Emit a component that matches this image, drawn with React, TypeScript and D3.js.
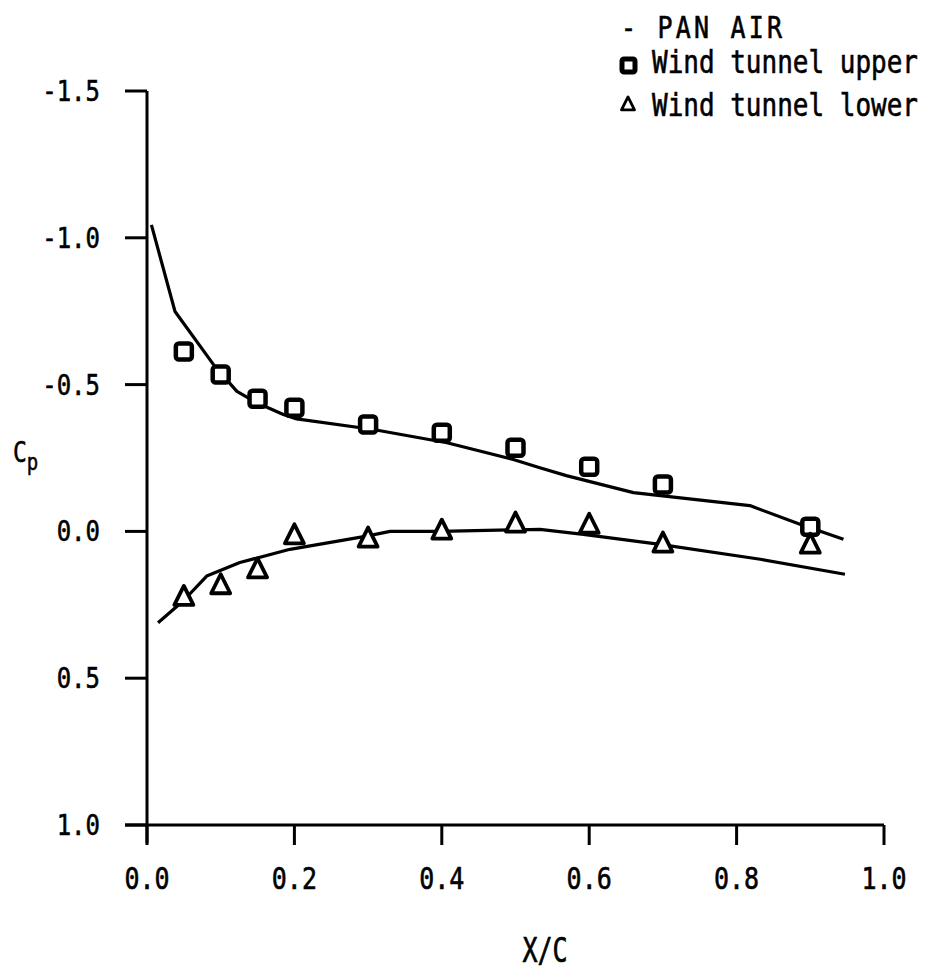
import React, { useEffect, useRef } from 'react';
import * as d3 from 'd3';

// PAN AIR solution, upper surface
const panUpperX = [0.006, 0.038, 0.092, 0.122, 0.149, 0.185, 0.203, 0.307, 0.407, 0.497, 0.533, 0.569, 0.66, 0.818, 0.886, 0.945];
const panUpperCp = [-1.044, -0.749, -0.562, -0.477, -0.438, -0.398, -0.383, -0.347, -0.302, -0.245, -0.217, -0.19, -0.132, -0.088, -0.024, 0.027];

// PAN AIR solution, lower surface
const panLowerX = [0.015, 0.049, 0.081, 0.126, 0.194, 0.298, 0.33, 0.398, 0.533, 0.592, 0.696, 0.832, 0.947];
const panLowerCp = [0.311, 0.237, 0.152, 0.106, 0.061, 0.016, 0.0, 0.0, -0.007, 0.01, 0.044, 0.095, 0.146];

// wind tunnel taps
const tapX = [0.05, 0.1, 0.15, 0.2, 0.3, 0.4, 0.5, 0.6, 0.7, 0.9];
const wtUpperCp = [-0.613, -0.534, -0.452, -0.421, -0.364, -0.336, -0.285, -0.22, -0.16, -0.016];
const wtLowerCp = [0.226, 0.186, 0.132, 0.016, 0.027, 0.0, -0.024, -0.02, 0.044, 0.048];

const xTicks = [0, 0.2, 0.4, 0.6, 0.8, 1.0];
const yTicks = [-1.5, -1.0, -0.5, 0.0, 0.5, 1.0];

const legendLabels = ['- PAN AIR', 'Wind tunnel upper', 'Wind tunnel lower'];

const FONT = '"DejaVu Sans Mono", monospace';

const App = () => {
  const svgRef = useRef<SVGSVGElement>(null);

  useEffect(() => {
    const width = 930;
    const height = 971;
    const svg = d3.select(svgRef.current).attr('width', width).attr('height', height);
    svg.selectAll('*').remove();

    const x = d3.scaleLinear().domain([0, 1]).range([147, 884]);
    const y = d3.scaleLinear().domain([-1.5, 1.0]).range([91, 825]);

    const ink = '#000';

    // tall, narrow typewriter-ish text
    const label = (tx: number, ty: number, str: string, size: number, anchor = 'start', sy = 1.2) =>
      svg.append('text')
        .attr('transform', `translate(${tx},${ty}) scale(1,${sy})`)
        .attr('text-anchor', anchor)
        .attr('fill', ink)
        .attr('stroke', ink)
        .attr('stroke-width', 0.5)
        .style('font-family', FONT)
        .style('font-size', `${size}px`)
        .text(str);

    // y axis
    svg.append('line')
      .attr('x1', x(0)).attr('x2', x(0))
      .attr('y1', y(-1.5)).attr('y2', y(1.0) + 18)
      .attr('stroke', ink).attr('stroke-width', 3);

    svg.selectAll('.ytick')
      .data(yTicks)
      .enter()
      .append('line')
      .attr('x1', x(0) - 22).attr('x2', x(0))
      .attr('y1', d => y(d)).attr('y2', d => y(d))
      .attr('stroke', ink).attr('stroke-width', 3);

    yTicks.forEach(d => label(100, y(d) + 10, d.toFixed(1), 24, 'end'));

    // x axis
    svg.append('line')
      .attr('x1', x(0) - 22).attr('x2', x(1))
      .attr('y1', y(1.0)).attr('y2', y(1.0))
      .attr('stroke', ink).attr('stroke-width', 3);

    svg.selectAll('.xtick')
      .data(xTicks)
      .enter()
      .append('line')
      .attr('x1', d => x(d)).attr('x2', d => x(d))
      .attr('y1', y(1.0)).attr('y2', y(1.0) + 20)
      .attr('stroke', ink).attr('stroke-width', 3);

    xTicks.forEach(d => label(x(d), 889, d.toFixed(1), 25, 'middle'));

    // axis titles
    label(545, 962, 'X/C', 25, 'middle', 1.35);

    const cp = svg.append('text')
      .attr('transform', 'translate(13,462) scale(1,1.25)')
      .attr('stroke', ink)
      .attr('stroke-width', 0.4)
      .style('font-family', FONT)
      .style('font-size', '23px');
    cp.append('tspan').text('C');
    cp.append('tspan').attr('dy', 6).style('font-size', '19px').text('p');

    // PAN AIR lines
    const line = d3.line<[number, number]>()
      .x(d => x(d[0]))
      .y(d => y(d[1]));

    const upper = panUpperX.map((v, i) => [v, panUpperCp[i]] as [number, number]);
    const lower = panLowerX.map((v, i) => [v, panLowerCp[i]] as [number, number]);

    [upper, lower].forEach(pts => {
      svg.append('path')
        .attr('d', line(pts))
        .attr('fill', 'none')
        .attr('stroke', ink)
        .attr('stroke-width', 3.2)
        .attr('stroke-linejoin', 'round');
    });

    // wind tunnel upper: squares
    svg.selectAll('.sq')
      .data(tapX.map((v, i) => [v, wtUpperCp[i]]))
      .enter()
      .append('rect')
      .attr('x', d => x(d[0]) - 8)
      .attr('y', d => y(d[1]) - 8)
      .attr('width', 16)
      .attr('height', 16)
      .attr('rx', 3)
      .attr('fill', '#fff')
      .attr('stroke', ink)
      .attr('stroke-width', 4.5);

    // wind tunnel lower: triangles
    const tri = (cx: number, cy: number, s: number) =>
      `M${cx},${cy - s * 0.62}L${cx + s / 2},${cy + s * 0.38}L${cx - s / 2},${cy + s * 0.38}Z`;

    svg.selectAll('.tri')
      .data(tapX.map((v, i) => [v, wtLowerCp[i]]))
      .enter()
      .append('path')
      .attr('d', d => tri(x(d[0]), y(d[1]), 19))
      .attr('fill', '#fff')
      .attr('stroke', ink)
      .attr('stroke-width', 3.8)
      .attr('stroke-linejoin', 'round');

    // legend
    label(621, 38, legendLabels[0], 25).attr('letter-spacing', '3.2px');
    label(652, 73, legendLabels[1], 26);
    label(652, 116, legendLabels[2], 26);

    svg.append('rect')
      .attr('x', 622).attr('y', 59)
      .attr('width', 13).attr('height', 13)
      .attr('rx', 2)
      .attr('fill', '#fff')
      .attr('stroke', ink)
      .attr('stroke-width', 5);

    svg.append('path')
      .attr('d', tri(628, 105, 13))
      .attr('fill', '#fff')
      .attr('stroke', ink)
      .attr('stroke-width', 2.8)
      .attr('stroke-linejoin', 'round');
  }, []);

  return (
    <svg ref={svgRef} style={{ position: 'absolute', left: 0, top: 0, background: '#fff' }}></svg>
  );
};

export default App;
